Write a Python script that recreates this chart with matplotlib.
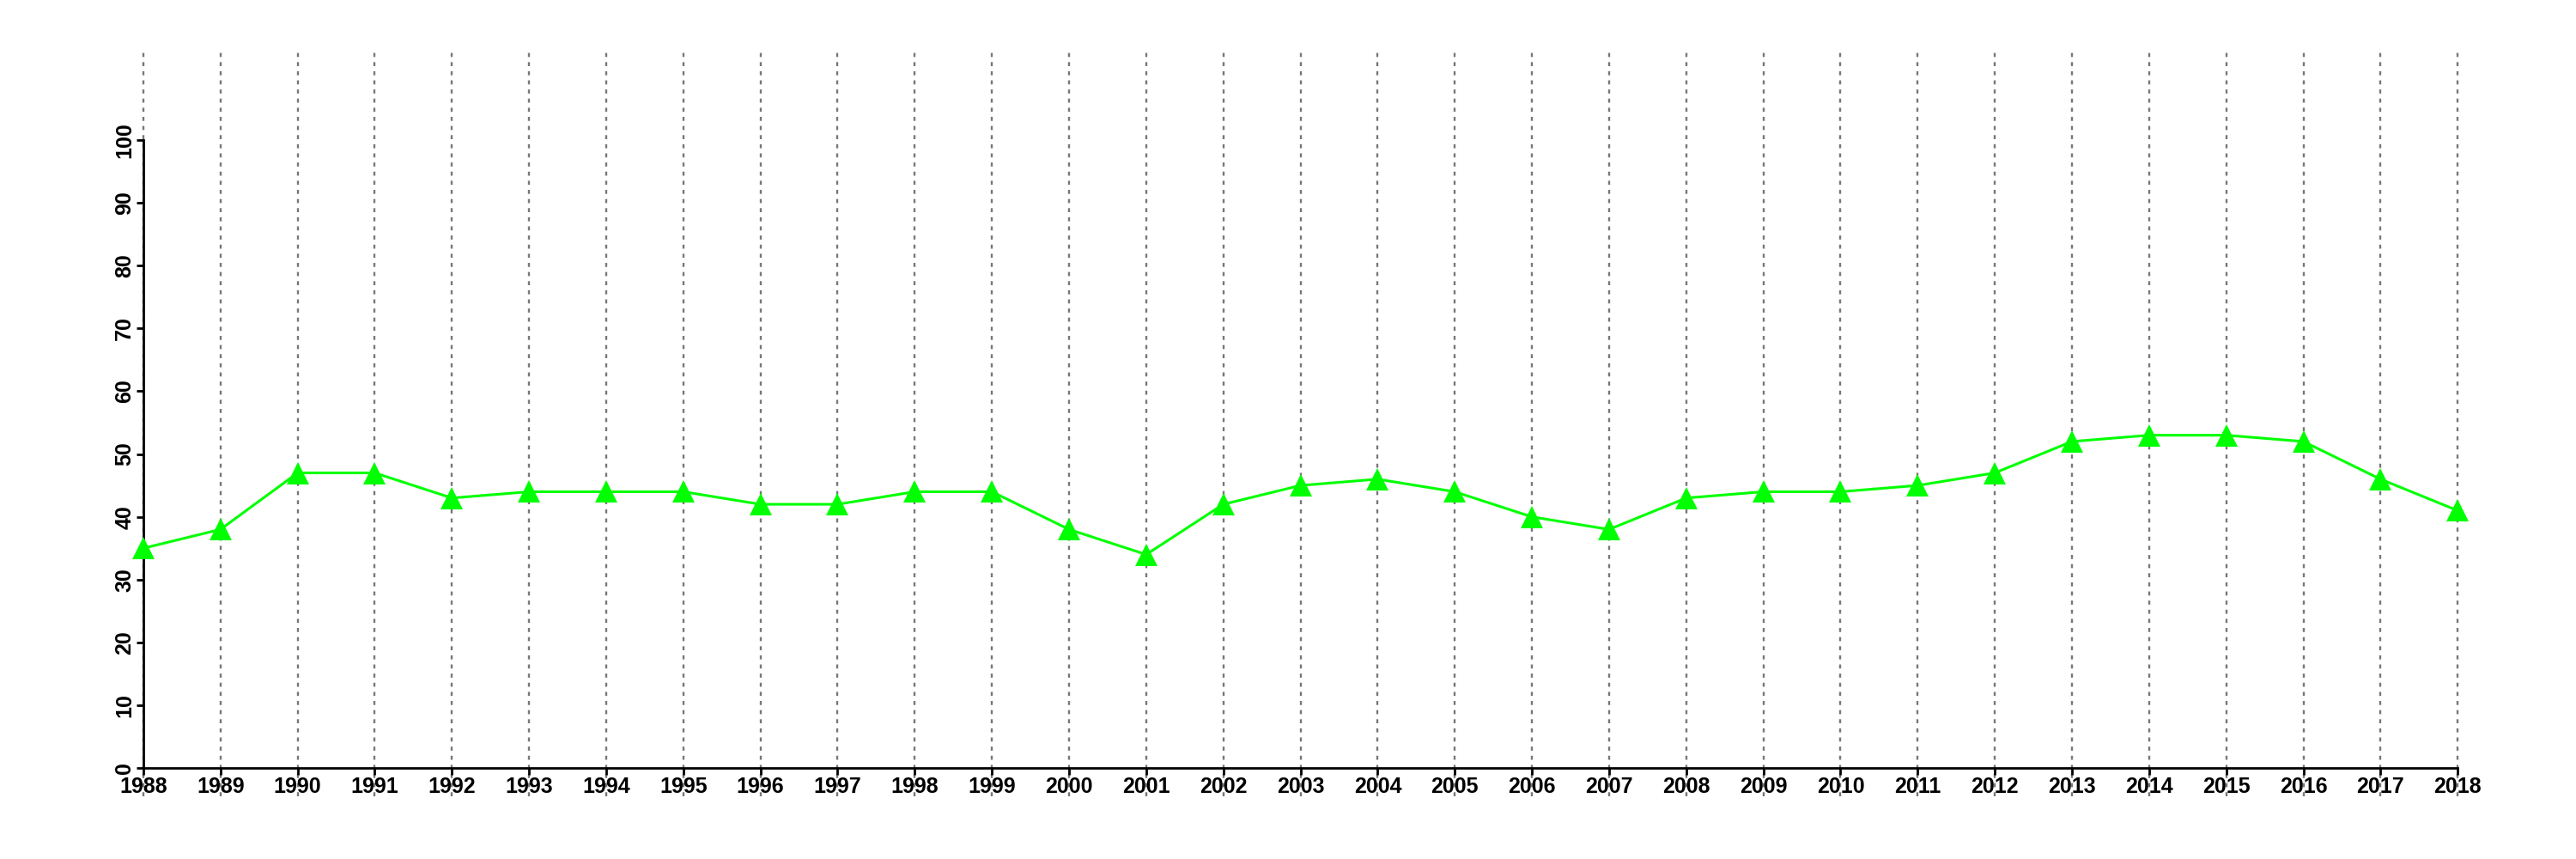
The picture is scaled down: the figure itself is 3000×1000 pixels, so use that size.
import matplotlib
matplotlib.use("Agg")
from matplotlib import pyplot as plt

# values
years = list(range(1988, 2019))
values = [35, 38, 47, 47, 43, 44, 44, 44, 42, 42, 44, 44, 38, 34, 42, 45,
          46, 44, 40, 38, 43, 44, 44, 45, 47, 52, 53, 53, 52, 46, 41]
yticks = [0, 10, 20, 30, 40, 50, 60, 70, 80, 90, 100]

plt.rcParams['font.family'] = ['Liberation Sans', 'DejaVu Sans']

fig = plt.figure(figsize=(30, 10), dpi=100)
ax = fig.add_axes([0.0197, 0.073, 0.9703, 0.867])

# vertical dotted grid at each year
for yr in years:
    ax.axvline(yr, color='#777777', linestyle=(0, (2, 2.5)), linewidth=1.7, zorder=1)

ax.plot(years, values, color='#00FF00', linewidth=2.2, marker='^',
        markersize=19, markeredgewidth=0, zorder=3)

ax.set_xlim(1986.8, 2019.2)
ax.set_ylim(-4.5, 114.1)

for s in ['top', 'right']:
    ax.spines[s].set_visible(False)
ax.spines['left'].set_position(('data', 1988))
ax.spines['bottom'].set_position(('data', 0))
ax.spines['left'].set_bounds(0, 100)
ax.spines['bottom'].set_bounds(1988, 2018)
ax.spines['left'].set_linewidth(2)
ax.spines['bottom'].set_linewidth(2)

ax.set_xticks(years)
ax.set_xticklabels([str(y) for y in years], fontsize=18, fontweight='bold')
ax.set_yticks(yticks)
ax.set_yticklabels([str(v) for v in yticks], fontsize=18, fontweight='bold',
                   rotation=90, va='center')
ax.tick_params(axis='both', direction='out', length=6, width=2, pad=1)

fig.savefig('out.png', dpi=100)
